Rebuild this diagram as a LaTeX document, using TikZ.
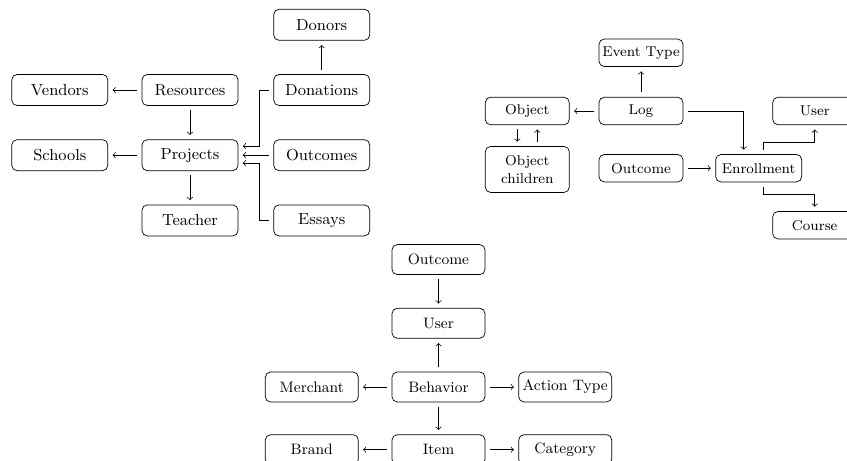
\documentclass[tikz,border=0pt]{standalone}
\usepackage{tikz}
\usetikzlibrary{positioning}

\begin{document}
\begin{tikzpicture}[
  node distance=0.67cm and 0.67cm,
  ent/.style={draw,rounded corners=3pt,align=center,inner sep=1pt},
  entA/.style={ent,minimum width=1.92cm,minimum height=0.62cm,font=\fontsize{9.1}{11}\selectfont},
  entB/.style={ent,minimum width=1.68cm,minimum height=0.55cm,font=\fontsize{8.1}{10.2}\selectfont},
  entC/.style={ent,minimum width=1.86cm,minimum height=0.6cm,font=\fontsize{8.6}{10.3}\selectfont},
  arrow/.style={->,shorten <=2.5pt,shorten >=2.5pt},
]
\useasboundingbox (0,0) rectangle (16.94,-9.22);
\clip (0,0) rectangle (16.94,-9.22);

% projects graph
\node[entA] (resources) at (3.8,-1.8) {Resources};
\node[entA, left=of resources] (vendors) {Vendors};
\node[entA, right=0.7cm of resources] (donations) {Donations};
\node[entA, above=of donations] (donors) {Donors};
\node[entA, below=of resources] (projects) {Projects};
\node[entA, left=of projects] (schools) {Schools};
\node[entA, right=0.7cm of projects] (outcomes) {Outcomes};
\node[entA, below=of projects] (teacher) {Teacher};
\node[entA, below=of outcomes] (essays) {Essays};

\draw[arrow] (resources) -- (vendors);
\draw[arrow] (resources) -- (projects);
\draw[arrow] (projects)  -- (schools);
\draw[arrow] (projects)  -- (teacher);
\draw[arrow] (donations) -- (donors);
\draw[arrow] (outcomes)  -- (projects);
\draw[arrow] (donations.west) -- ++(-0.28,0) |- ([yshift=0.18cm]projects.east);
\draw[arrow] (essays.west) -- ++(-0.28,0) |- ([yshift=-0.16cm]projects.east);

% log graph
\node[entB] (log) at (12.82,-2.22) {Log};
\node[entB, above=0.6cm of log] (eventtype) {Event Type};
\node[entB, left=0.58cm of log] (object) {Object};
\node[entB, minimum height=0.92cm, below=0.42cm of object] (objchildren) {Object\\children};
\node[entB, below=0.58cm of log] (outcome1) {Outcome};
\node[entB, minimum width=1.72cm, right=0.64cm of outcome1] (enrollment) {Enrollment};
\node[entB, right=1.78cm of log] (user1) {User};
\node[entB, below=1.72cm of user1] (course) {Course};

\draw[arrow] (log) -- (eventtype);
\draw[arrow] (log) -- (object);
\draw[arrow] ([xshift=-0.2cm]object.south) -- ([xshift=-0.2cm]objchildren.north);
\draw[arrow] ([xshift=0.2cm]objchildren.north) -- ([xshift=0.2cm]object.south);
\draw[arrow] (log.east) -| ([xshift=-0.3cm]enrollment.north);
\draw[arrow] (outcome1) -- (enrollment);
\draw[arrow] ([xshift=0.1cm]enrollment.north) -- ++(0,0.24) -| (user1.south);
\draw[arrow] ([xshift=0.1cm]enrollment.south) -- ++(0,-0.24) -| (course.north);

% behavior graph
\node[entC] (behavior) at (8.77,-7.74) {Behavior};
\node[entC, above=0.66cm of behavior] (user2) {User};
\node[entC, above=0.66cm of user2] (outcome2) {Outcome};
\node[entC, left=0.66cm of behavior] (merchant) {Merchant};
\node[entC, right=0.66cm of behavior] (actiontype) {Action Type};
\node[entC, below=0.64cm of behavior] (item) {Item};
\node[entC, left=0.66cm of item] (brand) {Brand};
\node[entC, right=0.66cm of item] (category) {Category};

\draw[arrow] (outcome2) -- (user2);
\draw[arrow] (behavior) -- (user2);
\draw[arrow] (behavior) -- (merchant);
\draw[arrow] (behavior) -- (actiontype);
\draw[arrow] (behavior) -- (item);
\draw[arrow] (item) -- (brand);
\draw[arrow] (item) -- (category);
\end{tikzpicture}
\end{document}
